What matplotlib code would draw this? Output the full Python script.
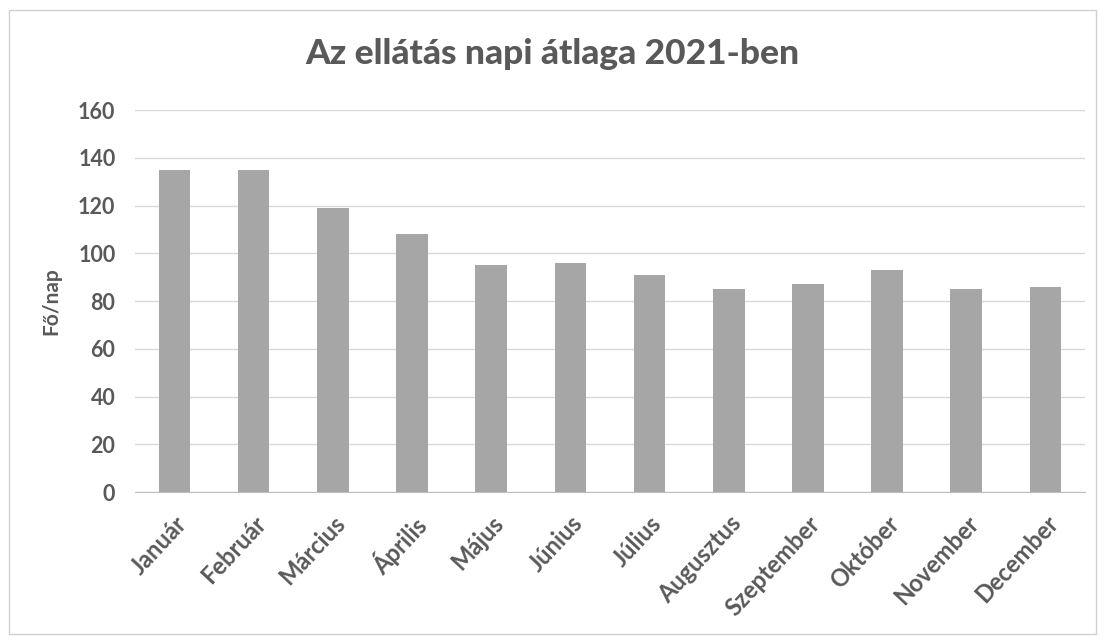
import matplotlib
matplotlib.use("Agg")
import matplotlib.pyplot as plt
from matplotlib.patches import Rectangle

months = ["Január", "Február", "Március", "Április", "Május", "Június",
          "Július", "Augusztus", "Szeptember", "Október", "November", "December"]
values = [135, 135, 119, 108, 95, 96, 91, 85, 87, 93, 85, 86]
yticks = [0, 20, 40, 60, 80, 100, 120, 140, 160]
title = "Az ellátás napi átlaga 2021-ben"
ylabel = "Fő/nap"

plt.rcParams['font.family'] = ['Lato', 'DejaVu Sans']
text_color = "#595959"

fig = plt.figure(figsize=(11.05, 6.4), dpi=100)
fig.patch.set_facecolor("white")
fig.patches.append(Rectangle((0.008, 0.01), 0.984, 0.975, transform=fig.transFigure,
                             fill=False, edgecolor="#d0d0d0", linewidth=1.0))

ax = fig.add_axes([0.122, 0.231, 0.860, 0.597])
x = list(range(len(months)))
ax.bar(x, values, width=0.4, color="#a6a6a6", zorder=3)
ax.set_xlim(-0.5, len(months) - 0.5)
ax.set_ylim(0, 160)
ax.set_yticks(yticks)
ax.set_yticklabels([str(v) for v in yticks], fontsize=15.5, color=text_color, fontweight='bold')
ax.set_xticks(x)
ax.set_xticklabels(months, rotation=47, ha='right', rotation_mode='anchor',
                   fontsize=17, color=text_color, fontweight='bold')
ax.tick_params(axis='y', length=0, pad=14)
ax.tick_params(axis='x', length=0, pad=14)
ax.grid(axis='y', color="#d9d9d9", linewidth=1.0, zorder=0)
for s in ["top", "right", "left"]:
    ax.spines[s].set_visible(False)
ax.spines["bottom"].set_color("#bfbfbf")
ax.set_ylabel(ylabel, fontsize=15, color=text_color, fontweight='bold', labelpad=12)
fig.text(0.5, 0.915, title, ha='center', va='center', fontsize=25.5,
         fontweight='black', color=text_color)

fig.savefig("out.png", dpi=100)
